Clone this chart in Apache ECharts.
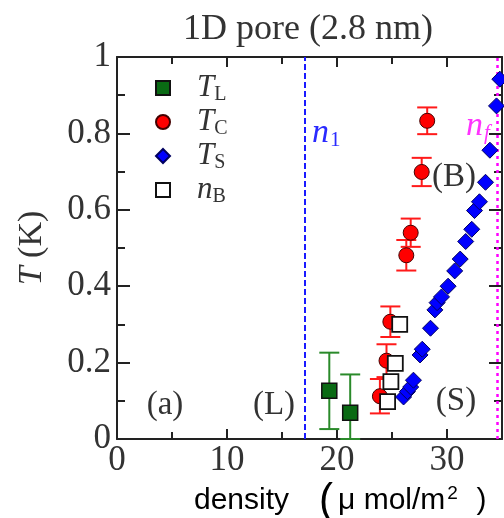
<!DOCTYPE html>
<html><head><meta charset="utf-8">
<script src="https://cdn.jsdelivr.net/npm/echarts@6/dist/echarts.min.js"></script>
<style>html,body{margin:0;padding:0;background:#fff}#c{width:504px;height:518px}</style>
</head><body><div id="c"></div>
<script>
// ---- data ----
const TL_x = [19.3, 21.2];
const TL_T = [0.126, 0.069];
const TL_err = [0.10, 0.10];

const TC_x = [23.9, 24.5, 24.85, 26.3, 26.7, 27.7, 28.2];
const TC_T = [0.112, 0.205, 0.307, 0.481, 0.540, 0.699, 0.833];
const TC_err = [0.045, 0.043, 0.040, 0.040, 0.037, 0.037, 0.035];

const TS_x = [26.05, 26.4, 26.7, 26.95, 27.55, 27.75, 28.5, 28.9, 29.1, 29.5, 30.1, 30.7, 31.2, 31.7, 32.25, 32.5, 32.95, 33.5, 33.9, 34.5, 34.8];
const TS_T = [0.110, 0.124, 0.136, 0.154, 0.220, 0.235, 0.290, 0.338, 0.357, 0.372, 0.400, 0.440, 0.471, 0.517, 0.549, 0.598, 0.621, 0.672, 0.756, 0.872, 0.942];

const nB_x = [24.6, 24.9, 25.3, 25.7];
const nB_T = [0.098, 0.150, 0.198, 0.300];

const n1_x = 17.1;
const nf_x = 34.6;

const xTicks = [0, 10, 20, 30];
const yTicks = [0, 0.2, 0.4, 0.6, 0.8, 1];

// ---- chart ----
const serif = 'Liberation Serif';
const sans = 'Liberation Sans';
const zip = (a, b) => a.map((v, i) => [v, b[i]]);
const errData = (xs, ys, es) => xs.map((v, i) => [v, Math.max(0, ys[i] - es[i]), ys[i] + es[i]]);

function errRender(color) {
  return function (params, api) {
    const x = api.value(0);
    const lo = api.coord([x, api.value(1)]);
    const hi = api.coord([x, api.value(2)]);
    const w = 10;
    const st = { stroke: color, lineWidth: 2 };
    return { type: 'group', children: [
      { type: 'line', shape: { x1: lo[0], y1: lo[1], x2: hi[0], y2: hi[1] }, style: st },
      { type: 'line', shape: { x1: hi[0] - w, y1: hi[1], x2: hi[0] + w, y2: hi[1] }, style: st },
      { type: 'line', shape: { x1: lo[0] - w, y1: lo[1], x2: lo[0] + w, y2: lo[1] }, style: st }
    ]};
  };
}

const chart = echarts.init(document.getElementById('c'), null, { renderer: 'canvas' });
const axisCol = '#222';
const tickSt = { color: axisCol, width: 2 };
function xAx(pos, labels) {
  return {
    type: 'value', min: 0, max: 35, interval: 10, position: pos,
    axisLine: { show: true, onZero: false, lineStyle: tickSt },
    axisTick: { inside: true, length: 10, lineStyle: tickSt },
    minorTick: { show: true, splitNumber: 2, length: 7, lineStyle: tickSt },
    splitLine: { show: false },
    axisLabel: labels ? { fontFamily: serif, fontSize: 35, color: '#333', margin: 4, showMaxLabel: false,
      formatter: v => xTicks.includes(v) ? String(v) : '' } : { show: false }
  };
}
function yAx(pos, labels) {
  return {
    type: 'value', min: 0, max: 1, interval: 0.2, position: pos,
    axisLine: { show: true, onZero: false, lineStyle: tickSt },
    axisTick: { inside: true, length: 13, lineStyle: tickSt },
    minorTick: { show: true, splitNumber: 2, length: 8, lineStyle: tickSt },
    splitLine: { show: false },
    axisLabel: labels ? { fontFamily: serif, fontSize: 35, color: '#333', margin: 6,
      formatter: v => { const t = yTicks.find(k => Math.abs(k - v) < 1e-9); return t === undefined ? '' : String(t); } } : { show: false }
  };
}

const richLeg = {
  i: { fontFamily: serif, fontStyle: 'italic', fontSize: 31, lineHeight: 31, color: '#333' },
  s: { fontFamily: serif, fontSize: 20, lineHeight: 20, color: '#333', padding: [14, 0, 0, 0] }
};
const legendNames = { T_L: '{i|T}{s|L}', T_C: '{i|T}{s|C}', T_S: '{i|T}{s|S}', n_B: '{i|n}{s|B}' };
const annot = (t, x, y) => ({ type: 'text', x, y, style: { text: t, font: '33px "Liberation Serif"', fill: '#333', align: 'center', verticalAlign: 'middle' } });

const option = {
  animation: false,
  grid: { left: 117, top: 57, right: 2, bottom: 79, containLabel: false },
  xAxis: [xAx('bottom', true), xAx('top', false)],
  yAxis: [yAx('left', true), yAx('right', false)],
  legend: {
    orient: 'vertical', left: 150, top: 66, itemGap: 0, itemWidth: 14, itemHeight: 14,
    data: ['T_L', 'T_C', 'T_S', 'n_B'],
    formatter: n => legendNames[n],
    textStyle: { rich: richLeg, padding: [0, 0, 0, 22] }
  },
  graphic: [
    { type: 'text', x: 308, y: 30, style: { text: '1D pore (2.8 nm)', font: '36px "Liberation Serif"', fill: '#333', align: 'center', verticalAlign: 'middle' } },
    { type: 'text', x: 32, y: 248, rotation: Math.PI / 2, style: { text: '{i|T}{u| (K)}', align: 'center', verticalAlign: 'middle',
      rich: { i: { fontStyle: 'italic', fontFamily: serif, fontSize: 34, fill: '#333' }, u: { fontFamily: serif, fontSize: 34, fill: '#333' } } } },
    { type: 'text', x: 194, y: 501, style: { text: '{a|density}{g| }{p|(}{b|μ mol/m}{sup|2}{b|  )}', verticalAlign: 'middle',
      rich: {
        a: { fontFamily: sans, fontSize: 30, fill: '#000' },
        g: { width: 30 },
        p: { fontFamily: sans, fontSize: 42, fill: '#000', padding: [0, 5, 0, 0] },
        b: { fontFamily: sans, fontSize: 30, fill: '#000' },
        sup: { fontFamily: sans, fontSize: 19, fill: '#000', padding: [0, 2, 14, 2] }
      } } },
    annot('(a)', 165, 405),
    annot('(L)', 274, 405),
    annot('(S)', 456, 401),
    annot('(B)', 454, 177),
    { type: 'text', x: 312, y: 133, style: { text: '{n|n}{s|1}', verticalAlign: 'middle', rich: {
        n: { fontFamily: serif, fontStyle: 'italic', fontSize: 34, lineHeight: 34, fill: '#2a2aff' },
        s: { fontFamily: serif, fontSize: 21, lineHeight: 21, fill: '#2a2aff', padding: [14, 0, 0, 1] } } } },
    { type: 'text', x: 466, y: 126, z: 1, style: { text: '{n|n}{s|f}', verticalAlign: 'middle', rich: {
        n: { fontFamily: serif, fontStyle: 'italic', fontSize: 34, lineHeight: 34, fill: '#ff33ff' },
        s: { fontFamily: serif, fontStyle: 'italic', fontSize: 21, lineHeight: 21, fill: '#ff33ff', padding: [14, 0, 0, 1] } } } }
  ],
  series: [
    { type: 'line', data: [], silent: true,
      markLine: { symbol: 'none', silent: true, label: { show: false },
        data: [
          { xAxis: n1_x, lineStyle: { color: '#1a1aff', type: [6, 3], width: 2 } },
          { xAxis: nf_x, lineStyle: { color: '#ff00ff', type: [3, 4], width: 2.5 } }
        ] } },
    { name: 'TLerr', type: 'custom', renderItem: errRender('#2a8a2a'), data: errData(TL_x, TL_T, TL_err), z: 2 },
    { name: 'T_L', type: 'scatter', symbol: 'rect', symbolSize: 15, data: zip(TL_x, TL_T), z: 3,
      itemStyle: { color: '#0a6a14', borderColor: '#111', borderWidth: 1.5, opacity: 1 } },
    { name: 'TCerr', type: 'custom', renderItem: errRender('#ff1a1a'), data: errData(TC_x, TC_T, TC_err), z: 2 },
    { name: 'T_C', type: 'scatter', symbol: 'circle', symbolSize: 15, data: zip(TC_x, TC_T), z: 3,
      itemStyle: { color: '#ff0000', borderColor: '#400', borderWidth: 1, opacity: 1 } },
    { name: 'n_B', type: 'scatter', symbol: 'rect', symbolSize: 15, data: zip(nB_x, nB_T), z: 4,
      itemStyle: { color: '#fff', borderColor: '#111', borderWidth: 1.8, opacity: 1 } },
    { name: 'T_S', type: 'scatter', symbol: 'diamond', symbolSize: 16, data: zip(TS_x, TS_T), z: 5,
      itemStyle: { color: '#0000ff', borderColor: '#000060', borderWidth: 1, opacity: 1 } }
  ]
};
chart.setOption(option);
</script></body></html>
